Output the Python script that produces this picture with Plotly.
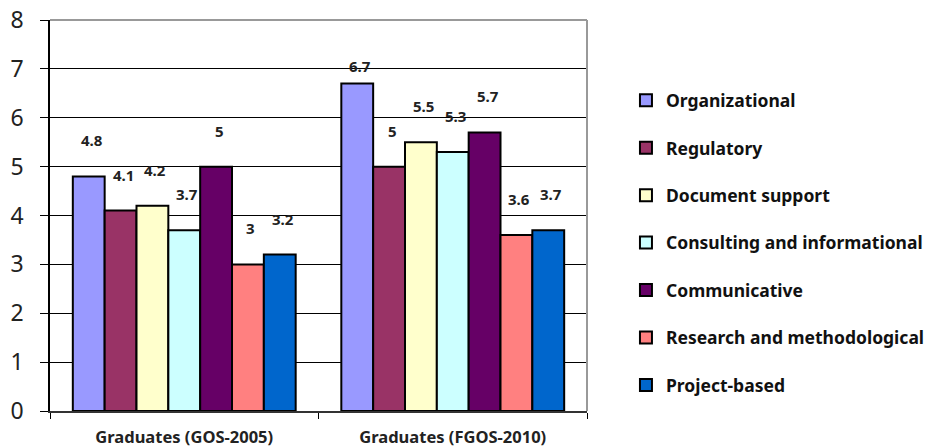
import plotly.graph_objects as go

categories = ["Graduates (GOS-2005)", "Graduates (FGOS-2010)"]
series_names = ["Organizational", "Regulatory", "Document support",
                "Consulting and informational", "Communicative",
                "Research and methodological", "Project-based"]
organizational = [4.8, 6.7]
regulatory = [4.1, 5.0]
document_support = [4.2, 5.5]
consulting = [3.7, 5.3]
communicative = [5.0, 5.7]
research = [3.0, 3.6]
project_based = [3.2, 3.7]
y_ticks = [0, 1, 2, 3, 4, 5, 6, 7, 8]

series_values = [organizational, regulatory, document_support, consulting,
                 communicative, research, project_based]
colors = ["#9999FF", "#993366", "#FFFFCC", "#CCFFFF", "#660066", "#FF8080", "#0066CC"]

FONT = "Noto Sans"
bargap = 0.17
n = len(series_names)
w = (1 - bargap) / n
ymax = 8
px_per_unit = 391 / ymax

fig = go.Figure()
for j, (name, vals, col) in enumerate(zip(series_names, series_values, colors)):
    fig.add_trace(go.Bar(
        x=categories, y=vals, name=name, legendgroup=name,
        marker=dict(color=col, line=dict(color="black", width=2)),
        hoverinfo="name+y",
    ))
    for i, v in enumerate(vals):
        fig.add_annotation(
            x=i + (j - (n - 1) / 2) * w, y=v, xref="x", yref="y",
            text=f"{v:g}", showarrow=False,
            yshift=min(36, (ymax - v) * px_per_unit - 46),
            xshift=3,
            font=dict(family=FONT, size=15, color="#222222", weight="bold"),
        )

# gray top and right border
fig.add_shape(type="line", xref="paper", yref="paper", x0=1, x1=1, y0=0, y1=1,
              line=dict(color="#999999", width=2))
fig.add_shape(type="line", xref="paper", yref="paper", x0=0, x1=1, y0=1, y1=1,
              line=dict(color="#999999", width=2))

fig.update_layout(
    width=929, height=448,
    margin=dict(l=50, r=342, t=20, b=37, autoexpand=False),
    paper_bgcolor="white", plot_bgcolor="white",
    barmode="group", bargap=bargap, bargroupgap=0,
    legend=dict(xref="container", yref="paper", x=0.6738, y=0.43,
                yanchor="middle", xanchor="left",
                font=dict(family=FONT, size=17.5, color="#111111", weight="bold"),
                tracegroupgap=21.7, itemwidth=30),
    xaxis=dict(showline=True, linecolor="#333333", linewidth=1.5, automargin=False,
               ticks="outside", tickson="boundaries", ticklen=6, tickcolor="black",
               ticklabelstandoff=10,
               tickfont=dict(family=FONT, size=16.5, color="#222222", weight="bold"),
               showgrid=False),
    yaxis=dict(range=[0, ymax], tickvals=y_ticks, showline=True, linecolor="black",
               linewidth=1.5, ticks="outside", ticklen=8, tickcolor="black",
               automargin=False, ticklabelstandoff=12,
               showgrid=True, gridcolor="black", gridwidth=1,
               tickfont=dict(family=FONT, size=23, color="#222222"),
               zeroline=False),
    showlegend=True,
)
fig.write_html("out.html", config={"displayModeBar": False},
               post_script="document.body.style.margin='0';")
